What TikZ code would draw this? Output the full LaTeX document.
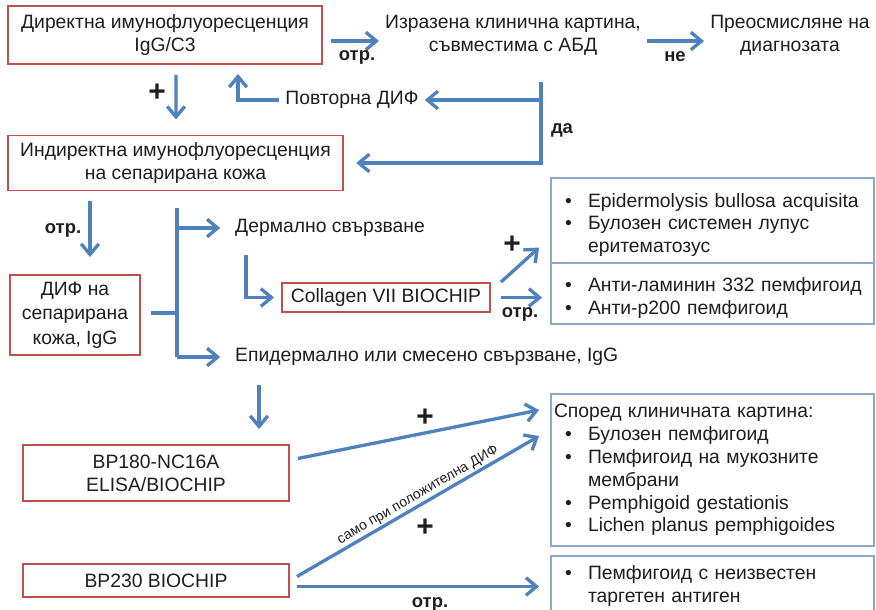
\documentclass[tikz,border=0pt]{standalone}
\usepackage{fontspec}
\setmainfont{Liberation Sans}
\usetikzlibrary{calc,positioning,arrows.meta}
\definecolor{boxred}{RGB}{192,80,77}
\definecolor{arrblue}{RGB}{79,129,189}
\definecolor{listblue}{RGB}{140,168,200}
\definecolor{txt}{RGB}{30,30,30}
\newcommand{\itm}[1]{\par\noindent\hspace*{0.22cm}\makebox[0.46cm][l]{\textbullet}#1}
\newcommand{\cont}[1]{\par\noindent\hspace*{0.68cm}#1}

\begin{document}
\begin{tikzpicture}[x=0.02cm,y=-0.02cm,
  every node/.style={font=\fontsize{11}{13}\selectfont,text=txt},
  redbox/.style={draw=boxred,line width=1.1pt,align=center,inner sep=0pt},
  listbox/.style={draw=listblue,line width=1.1pt,text width=6.34cm,inner xsep=0.06cm,align=left},
  flow/.style={draw=arrblue,line width=1.9pt,-{Straight Barb[length=6pt,width=10pt]}},
  link/.style={draw=arrblue,line width=1.9pt},
  tag/.style={font=\bfseries\fontsize{10.5}{12}\selectfont},
  plus/.style={font=\bfseries\fontsize{17}{17}\selectfont}]
  \useasboundingbox (0,0) rectangle (876,609);
  \clip (0,0) rectangle (876,609);

  \node[redbox,minimum width=6.28cm,minimum height=1.16cm] (dif) at (165,35) {Директна имунофлуоресценция\\IgG/C3};
  \node[align=center] (clin) at (513,35) {Изразена клинична картина,\\съвместима с АБД};
  \node[align=center] (revis) at (790,35) {Преосмисляне на\\диагнозата};
  \node (povt) at (352,100) {Повторна ДИФ};
  \node[redbox,minimum width=6.70cm,minimum height=1.10cm] (iif) at (175.5,163) {Индиректна имунофлуоресценция\\на сепарирана кожа};
  \node[redbox,minimum width=2.6cm,minimum height=1.6cm] (difsep) at (75,315) {ДИФ на\\[1pt]сепарирана\\[1pt]кожа, IgG};
  \node[anchor=west] (derm) at (229,228) {Дермално свързване};
  \node[anchor=west] (epid) at (229,357) {Епидермално или смесено свързване, IgG};
  \node[redbox,minimum width=4.16cm,minimum height=0.58cm] (col7) at (386,297.5) {Collagen VII BIOCHIP};
  \node[listbox,minimum height=1.54cm] (eba) at (712.5,220.5) {\itm{Epidermolysis bullosa acquisita}\itm{Булозен системен лупус}\cont{еритематозус}};
  \node[listbox,minimum height=0.94cm] (lam) at (712.5,293.5) {\itm{Анти-ламинин 332 пемфигоид}\itm{Анти-p200 пемфигоид}};
  \node[redbox,minimum width=5.32cm,minimum height=1.12cm] (bp180) at (156,473) {BP180-NC16A\\ELISA/BIOCHIP};
  \node[redbox,minimum width=5.32cm,minimum height=0.66cm] (bp230) at (156,580.5) {BP230 BIOCHIP};
  \node[listbox,minimum height=3.04cm] (bp) at (712.5,470) {\noindent Според клиничната картина:\itm{Булозен пемфигоид}\itm{Пемфигоид на мукозните}\cont{мембрани}\itm{Pemphigoid gestationis}\itm{Lichen planus pemphigoides}};
  \node[listbox,anchor=north,inner ysep=0.5pt] (unk) at (712.5,555) {\itm{Пемфигоид с неизвестен}\cont{таргетен антиген\rule[-0.8cm]{0pt}{0pt}}};

  \draw[flow] ($(dif.east)+(8,6)$) -- ($(clin.west)+(0,6)$);
  \draw[flow] ($(clin.east)+(0,6)$) -- ($(revis.west)+(0,6)$);
  \node[tag] (neg1) at (357,57) {отр.};
  \node[tag] (no) at (675,57) {не};
  \draw[flow] ($(dif.south)+(11,10)$) -- ($(iif.north)+(0.5,-15)$);
  \node[plus] (pos1) at (157,93) {+};
  \draw[flow] (povt.west) -| ($(dif.south)+(73,9)$);
  \coordinate (cl) at ($(clin.south)+(28,21)$);
  \draw[flow] (cl) |- ([xshift=7pt]iif.east);
  \draw[flow] (cl |- povt.east) -- (povt.east);
  \node[tag] (yes) at (562,130) {да};

  \draw[flow] ($(iif.south)+(-85.5,10)$) -- ($(difsep.north)+(15,-17)$);
  \node[tag] (neg2) at (63,230) {отр.};
  \coordinate (fk) at ($(difsep.east)+(36,-2)$);
  \draw[link] ($(difsep.east)+(10,-2)$) -- (fk);
  \draw[link] ($(fk |- iif.south)+(0,17)$) -- (fk |- epid.west);
  \draw[flow] (fk |- derm.west) -- ([xshift=-5pt]derm.west);
  \draw[flow] (fk |- epid.west) -- ([xshift=-5pt]epid.west);
  \draw[flow] ($(derm.south west)+(17,12)$) |- ([xshift=-4pt]col7.west);
  \draw[flow] ($(col7.north east)+(10,0)$) -- ($(eba.south west)+(-11,-16)$);
  \draw[flow] ($(col7.east)+(10,0)$) -- ($(lam.west |- col7.east)+(-8,0)$);
  \node[plus] (pos2) at (512,245) {+};
  \node[tag] (neg3) at (520,314) {отр.};

  \draw[flow] ($(epid.south west)+(30,13)$) -- ($(bp180.north)+(103,-15)$);
  \draw[flow] ($(bp180.east)+(8,-14.5)$) -- ($(bp.north west)+(-11,17)$);
  \draw[flow] ($(bp230.east)+(7,-4)$) -- node[above,sloped,pos=0.52,inner sep=1pt,font=\fontsize{8}{9}\selectfont] (only) {само при положителна ДИФ} ($(bp.north west)+(-11,43)$);
  \draw[flow] ($(bp230.east)+(7,6)$) coordinate (s) -- ($(unk.west |- s)+(-11,0)$);
  \node[plus] (pos3) at (425,418) {+};
  \node[plus] (pos4) at (425,528) {+};
  \node[tag] (neg4) at (430,604) {отр.};
\end{tikzpicture}
\end{document}
